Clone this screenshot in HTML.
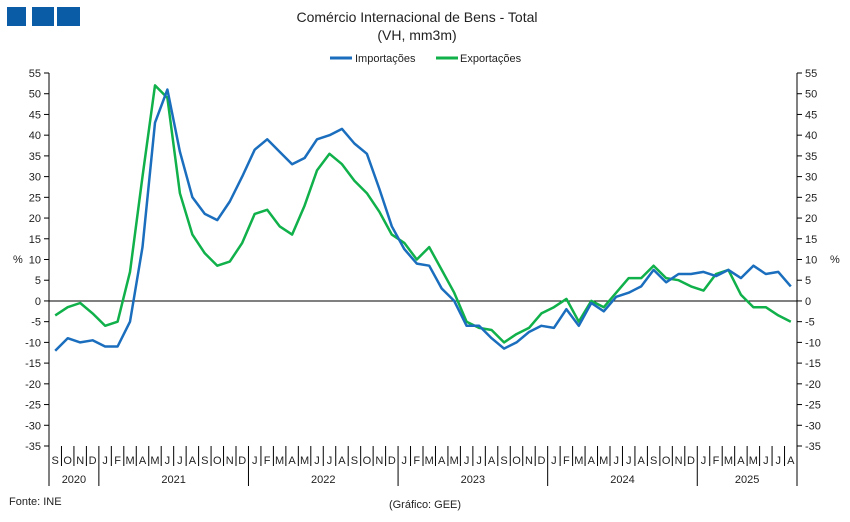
<!DOCTYPE html>
<html><head><meta charset="utf-8"><style>
body{margin:0;background:#fff;}
svg{display:block;font-family:"Liberation Sans",Arial,sans-serif;}
</style></head><body>
<svg id="c" width="850" height="522" viewBox="0 0 850 522" xmlns="http://www.w3.org/2000/svg">
<rect x="7" y="7" width="19" height="19" fill="#0b5ca6"/>
<rect x="32" y="7" width="22" height="19" fill="#0b5ca6"/>
<rect x="57" y="7" width="23" height="19" fill="#0b5ca6"/>
<text x="417" y="22" font-size="14" text-anchor="middle" fill="#222">Comércio Internacional de Bens - Total</text>
<text x="417" y="40" font-size="14" text-anchor="middle" fill="#222">(VH, mm3m)</text>
<line x1="330" y1="58" x2="352" y2="58" stroke="#1a6ebd" stroke-width="3"/>
<text x="355" y="62" font-size="11" fill="#222">Importações</text>
<line x1="436" y1="58" x2="458" y2="58" stroke="#10b04a" stroke-width="3"/>
<text x="460" y="62" font-size="11" fill="#222">Exportações</text>
<text x="13" y="263" font-size="11" fill="#222">%</text>
<text x="830" y="263" font-size="11" fill="#222">%</text>
<text x="9" y="505" font-size="11" fill="#222">Fonte: INE</text>
<text x="425" y="508" font-size="11" text-anchor="middle" fill="#222">(Gráfico: GEE)</text>
<g id="g"></g>
</svg>
<script>
var ns="http://www.w3.org/2000/svg",g=document.getElementById("g");
function el(t,a,tx){var e=document.createElementNS(ns,t);for(var k in a)e.setAttribute(k,a[k]);if(tx!=null)e.textContent=tx;g.appendChild(e);return e;}
var L=49,R=797,T=73,B=446;
function Y(v){return T+(55-v)*(B-T)/90;}
var W=(R-L)/60;
function X(i){return L+W*(i+0.5);}
el("line",{x1:L,y1:T,x2:L,y2:B,stroke:"#000"});
el("line",{x1:R,y1:T,x2:R,y2:B,stroke:"#000"});
el("line",{x1:L,y1:Y(0),x2:R,y2:Y(0),stroke:"#000"});
for(var v=55;v>=-35;v-=5){var y=Y(v);
el("line",{x1:L-5,y1:y,x2:L,y2:y,stroke:"#000"});
el("line",{x1:R,y1:y,x2:R+5,y2:y,stroke:"#000"});
el("text",{x:L-8,y:y+4,"font-size":11,"text-anchor":"end",fill:"#222"},v);
el("text",{x:R+8,y:y+4,"font-size":11,fill:"#222"},v);}
var m="SONDJFMAMJJASONDJFMAMJJASONDJFMAMJJASONDJFMAMJJASONDJFMAMJJA";
for(var i=0;i<60;i++){
el("text",{x:X(i),y:464,"font-size":11,"text-anchor":"middle",fill:"#222"},m[i]);
var x=L+W*i;var yb=(i==0||(i-4)%12==0)?486:466;
el("line",{x1:x,y1:B,x2:x,y2:yb,stroke:"#000"});}
el("line",{x1:R,y1:B,x2:R,y2:486,stroke:"#000"});
var yrs=[[0,4,"2020"],[4,16,"2021"],[16,28,"2022"],[28,40,"2023"],[40,52,"2024"],[52,60,"2025"]];
yrs.forEach(function(a){el("text",{x:L+W*(a[0]+a[1])/2,y:483,"font-size":11,"text-anchor":"middle",fill:"#222"},a[2]);});
var imp=[-12,-9,-10,-9.5,-11,-11,-5,13,43,51,36,25,21,19.5,24,30,36.5,39,36,33,34.5,39,40,41.5,38,35.5,27,18,12.5,9,8.5,3,0,-6,-6,-9,-11.5,-10,-7.5,-6,-6.5,-2,-6,-0.5,-2.5,1,2,3.5,7.5,4.5,6.5,6.5,7,6,7.5,5.5,8.5,6.5,7,3.5];
var exp=[-3.5,-1.5,-0.5,-3,-6,-5,7,30,52,49,26,16,11.5,8.5,9.5,14,21,22,18,16,23,31.5,35.5,33,29,26,21.5,16,14,10,13,7.5,2,-5,-6.5,-7,-10,-8,-6.5,-3,-1.5,0.5,-5,0,-1.5,2,5.5,5.5,8.5,5.5,5,3.5,2.5,6.5,7.5,1.5,-1.5,-1.5,-3.5,-5];
function pl(d,c){el("polyline",{points:d.map(function(v,i){return X(i).toFixed(1)+","+Y(v).toFixed(1)}).join(" "),fill:"none",stroke:c,"stroke-width":2.5,"stroke-linejoin":"round"});}
pl(exp,"#10b04a");pl(imp,"#1a6ebd");
</script>
</body></html>
